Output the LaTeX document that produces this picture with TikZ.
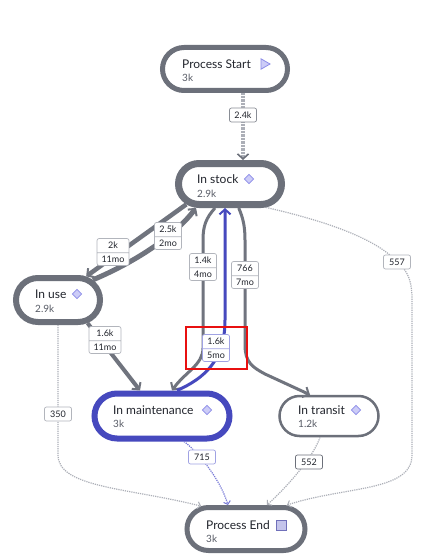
\documentclass[tikz,border=0pt]{standalone}
\usepackage{fontspec}
\setmainfont{Lato}
\definecolor{pmgray}{RGB}{108,112,122}
\definecolor{pmedge}{RGB}{112,116,126}
\definecolor{pmdot}{RGB}{172,175,183}
\definecolor{pmblue}{RGB}{70,73,190}
\definecolor{pmlblue}{RGB}{120,122,215}
\definecolor{pmicon}{RGB}{204,204,247}
\definecolor{pmiconline}{RGB}{140,140,232}
\definecolor{pmtext}{RGB}{34,37,45}
\definecolor{pmsub}{RGB}{88,92,102}
\definecolor{pmlabel}{RGB}{178,181,188}
\definecolor{pmred}{RGB}{232,16,16}
\usetikzlibrary{arrows.meta,positioning,shapes.geometric,shapes.misc,shapes.multipart}

\begin{document}
\begin{tikzpicture}[x=1pt,y=-1pt,
  act/.style={rounded rectangle,draw=pmgray,fill=white,inner sep=0pt},
  title/.style={anchor=west,inner sep=0pt,text=pmtext,font=\fontsize{12}{14}\selectfont},
  sub/.style={anchor=west,inner sep=0pt,text=pmsub,font=\fontsize{10}{12}\selectfont},
  gem/.style={diamond,draw=pmiconline,fill=pmicon,line width=0.8pt,minimum size=9.5pt,inner sep=0pt},
  lbl/.style={draw=pmlabel,fill=white,rounded corners=2pt,line width=0.7pt,text=pmtext,
    font=\fontsize{9}{10}\selectfont,inner xsep=4.5pt,inner ysep=0pt,minimum width=27pt,minimum height=14pt},
  lbltwo/.style={lbl,rectangle split,rectangle split parts=2,rectangle split draw splits,
    minimum height=0pt,text height=6.5pt,text depth=1.5pt,inner ysep=2.75pt},
  flow/.style={draw=pmedge,line width=#1,-{Straight Barb[length=5pt,width=11pt,line width=2pt]}},
  rare/.style={draw=pmdot,line width=1.2pt,densely dotted,-{Straight Barb[length=3pt,width=7pt,line width=1pt]}}]
  \fill[white] (0,0) rectangle (420,559);
  \useasboundingbox (0,0) rectangle (420,559);
  % activities
  \node[act,line width=5pt,minimum width=125pt,minimum height=43pt] (start) at (225,69) {};
  \node[title] (startname) at (182,64) {Process Start};
  \node[sub] (startcount) at (182,78) {3k};
  \node[isosceles triangle,isosceles triangle apex angle=60,draw=pmiconline,fill=pmicon,
    line width=0.8pt,minimum size=9pt,inner sep=0pt] (starticon) at (264,64) {};
  \node[act,line width=7pt,minimum width=103pt,minimum height=41pt] (stock) at (230,184) {};
  \node[title] (stockname) at (197,179) {In stock};
  \node[sub] (stockcount) at (197,194) {2.9k};
  \node[gem] (stockicon) at (249,179) {};
  \node[act,line width=6pt,minimum width=84pt,minimum height=44pt] (use) at (58,300) {};
  \node[title] (usename) at (35,294) {In use};
  \node[sub] (usecount) at (35,309) {2.9k};
  \node[gem] (useicon) at (77,294) {};
  \node[act,draw=pmblue,line width=6pt,minimum width=135pt,minimum height=45pt] (maint) at (162,416) {};
  \node[title] (maintname) at (113,410) {In maintenance};
  \node[sub] (maintcount) at (113,424) {3k};
  \node[gem] (mainticon) at (207,410) {};
  \node[act,line width=2.5pt,minimum width=99pt,minimum height=40pt] (transit) at (329,416) {};
  \node[title] (transitname) at (298,410) {In transit};
  \node[sub] (transitcount) at (298,424) {1.2k};
  \node[gem] (transiticon) at (356,410) {};
  \node[act,line width=5pt,minimum width=118pt,minimum height=43pt] (end) at (246,529) {};
  \node[title] (endname) at (206,525) {Process End};
  \node[sub] (endcount) at (206,539) {3k};
  \node[draw=pmiconline!80!black,fill=pmicon!90!gray,line width=0.8pt,minimum size=10pt,
    inner sep=0pt] (endicon) at (281,525) {};
  % label spots
  \coordinate (c24) at (243,115);
  \coordinate (c2k) at (113,252);
  \coordinate (c25k) at (168,236);
  \coordinate (c14k) at (203,267);
  \coordinate (c766) at (245,275);
  \coordinate (c16k) at (216,348);
  \coordinate (c16u) at (105,340);
  \coordinate (c350) at (58,414);
  \coordinate (c557) at (397,262);
  \coordinate (c715) at (202,457);
  \coordinate (c552) at (309,462);
  % flows
  \draw[draw=pmdot,line width=4pt,dash pattern=on 0.7pt off 0.7pt,
    -{Straight Barb[length=5pt,width=11pt,line width=1.6pt,color=pmgray]}]
    (start.south -| c24) -- (stock.north -| c24);
  \draw[flow=4.5pt] (stock.205) -- (use.40);
  \draw[flow=5pt] (use.30) .. controls (135,262) and (175,236) .. (stock.215);
  \draw[flow=3pt] (stock.238) .. controls (206,218) and (203,226) .. (203,240) -- (203,348)
    .. controls (203,365) and (185,372) .. ([xshift=10pt]maint.north);
  \draw[flow=3pt] (stock.290) .. controls (243,218) and (245,226) .. (245,240) -- (245,345)
    .. controls (245,362) and (252,367) .. (265,374) -- ([xshift=-19pt]transit.north);
  \draw[flow=3pt,draw=pmblue] ([xshift=15pt]maint.north) .. controls (205,378) and (225,360)
    .. (225,320) -- ([xshift=-5pt]stock.south);
  \draw[flow=4pt] (use.-38) -- ([xshift=-22pt]maint.north);
  \draw[rare] (use.south) -- (58,455) .. controls (58,488) and (130,488) .. (end.153);
  \draw[rare,draw=pmlblue] ([xshift=22pt]maint.south) .. controls (196,450) and (220,478)
    .. ([xshift=-18pt]end.north);
  \draw[rare] ([xshift=-9pt]transit.south) .. controls (314,455) and (292,482)
    .. ([xshift=21pt]end.north);
  \draw[rare] (stock.-33) .. controls (330,222) and (378,240) .. (397,262)
    .. controls (410,272) and (412,285) .. (412,300) -- (412,455)
    .. controls (412,492) and (345,486) .. ([xshift=41pt]end.north);
  % flow labels
  \node[lbl,draw=pmgray!80] (l24) at (c24) {2.4k};
  \node[lbltwo] (l2k) at (c2k) {2k\nodepart{two}11mo};
  \node[lbltwo] (l25k) at (c25k) {2.5k\nodepart{two}2mo};
  \node[lbltwo] (l14k) at (c14k) {1.4k\nodepart{two}4mo};
  \node[lbltwo] (l766) at (c766) {766\nodepart{two}7mo};
  \node[lbltwo,draw=pmlblue!70] (l16k) at (c16k) {1.6k\nodepart{two}5mo};
  \node[lbltwo] (l16u) at (c16u) {1.6k\nodepart{two}11mo};
  \node[lbl] (l350) at (c350) {350};
  \node[lbl] (l557) at (c557) {557};
  \node[lbl,draw=pmlblue!70] (l715) at (c715) {715};
  \node[lbl,draw=pmgray] (l552) at (c552) {552};
  % highlight
  \draw[pmred,line width=1.8pt] (186,327) rectangle (247,369);
\end{tikzpicture}
\end{document}
